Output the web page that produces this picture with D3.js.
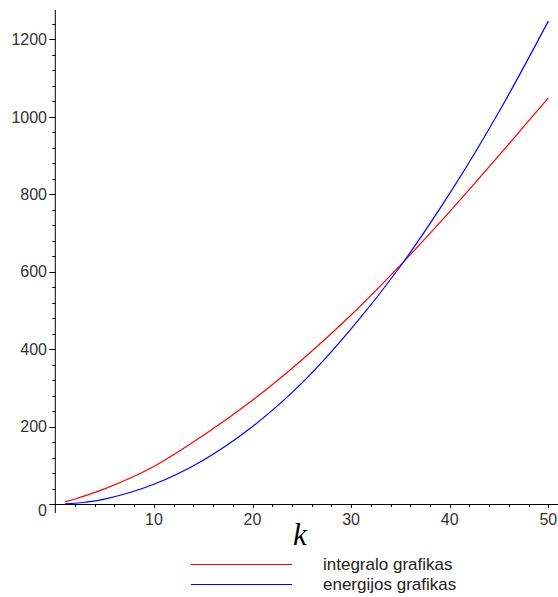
<!DOCTYPE html>
<html>
<head>
<meta charset="utf-8">
<script src="https://cdn.jsdelivr.net/npm/d3@7"></script>
<style>
  body { margin: 0; background: #fff; }
  svg { display: block; }
</style>
</head>
<body>
<div id="chart"></div>
<script>
// values
var kValues = [1, 2, 3, 5, 10, 15, 20, 25, 30, 35, 40, 45, 50]
var integralo = [6, 13, 21, 39, 97, 177, 268, 372, 488, 617, 755, 900, 1049]
var energijos = [0.5, 2, 4.5, 12.5, 51, 113, 200, 312, 452, 614, 802, 1013, 1247]

var xMajor = [10, 20, 30, 40, 50]
var yMajor = [0, 200, 400, 600, 800, 1000, 1200]
var seriesNames = ["integralo grafikas", "energijos grafikas"]
var seriesColors = ["#ff0000", "#0000ff"]

var width = 558, height = 597

var svg = d3.select("#chart").append("svg")
  .attr("width", width)
  .attr("height", height)

svg.append("rect").attr("width", width).attr("height", height).attr("fill", "#fff")

var x = d3.scaleLinear().domain([0, 51]).range([55.3, 558.2])
var y = d3.scaleLinear().domain([0, 1200]).range([504, 39.3])

var axisColor = "#000"
var labelFont = "'Liberation Sans', Arial, sans-serif"

// y axis
var yAxisG = svg.append("g")
yAxisG.append("line")
  .attr("x1", x(0)).attr("x2", x(0))
  .attr("y1", 10).attr("y2", 513)
  .attr("stroke", axisColor)

var yMinor = d3.range(40, 1280, 40).filter(d => d % 200 !== 0)
yAxisG.selectAll(".ymin").data(yMinor).join("line")
  .attr("x1", x(0) - 3).attr("x2", x(0))
  .attr("y1", d => Math.round(y(d)) + 0.5).attr("y2", d => Math.round(y(d)) + 0.5)
  .attr("stroke", axisColor)

yAxisG.selectAll(".ymaj").data(yMajor).join("line")
  .attr("x1", x(0) - 6).attr("x2", x(0))
  .attr("y1", d => Math.round(y(d)) + 0.5).attr("y2", d => Math.round(y(d)) + 0.5)
  .attr("stroke", axisColor)

yAxisG.selectAll("text").data(yMajor).join("text")
  .attr("x", 47)
  .attr("y", d => y(d) + (d === 0 ? 6 : 0))
  .attr("dy", "0.36em")
  .attr("text-anchor", "end")
  .attr("font-family", labelFont)
  .attr("font-size", 16)
  .attr("fill", "#333")
  .text(d => d)

// x axis
var xAxisG = svg.append("g")
xAxisG.append("line")
  .attr("x1", 50).attr("x2", width)
  .attr("y1", y(0) + 0.5).attr("y2", y(0) + 0.5)
  .attr("stroke", axisColor)

var xMinor = d3.range(2, 51, 2).filter(d => d % 10 !== 0)
xAxisG.selectAll(".xmin").data(xMinor).join("line")
  .attr("x1", d => Math.round(x(d)) + 0.5).attr("x2", d => Math.round(x(d)) + 0.5)
  .attr("y1", y(0)).attr("y2", y(0) + 3)
  .attr("stroke", axisColor)

xAxisG.selectAll(".xmaj").data(xMajor).join("line")
  .attr("x1", d => Math.round(x(d)) + 0.5).attr("x2", d => Math.round(x(d)) + 0.5)
  .attr("y1", y(0)).attr("y2", y(0) + 4)
  .attr("stroke", axisColor)

xAxisG.selectAll("text").data(xMajor).join("text")
  .attr("x", d => x(d))
  .attr("y", 525)
  .attr("text-anchor", "middle")
  .attr("font-family", labelFont)
  .attr("font-size", 16)
  .attr("fill", "#333")
  .text(d => d)

// axis label
svg.append("text")
  .attr("x", 300)
  .attr("y", 545)
  .attr("text-anchor", "middle")
  .attr("font-family", "'Liberation Serif', 'Times New Roman', serif")
  .attr("font-style", "italic")
  .attr("font-size", 31)
  .attr("fill", "#000")
  .text("k")

// curves
var line = d3.line()
  .curve(d3.curveCatmullRom)
  .x((d, i) => x(kValues[i]))
  .y(d => y(d))

var series = [integralo, energijos]
svg.append("g").selectAll("path").data(series).join("path")
  .attr("fill", "none")
  .attr("stroke", (d, i) => seriesColors[i])
  .attr("stroke-width", 1.2)
  .attr("d", line)

// legend
var legend = svg.append("g")
var legendY = [564, 584]
legend.selectAll("line").data(seriesNames).join("line")
  .attr("x1", 191).attr("x2", 292)
  .attr("y1", (d, i) => legendY[i] + 0.5).attr("y2", (d, i) => legendY[i] + 0.5)
  .attr("stroke", (d, i) => seriesColors[i])
  .attr("stroke-width", 1.2)

legend.selectAll("text").data(seriesNames).join("text")
  .attr("x", 323)
  .attr("y", (d, i) => legendY[i] + 6)
  .attr("font-family", labelFont)
  .attr("font-size", 17)
  .attr("fill", "#222")
  .text(d => d)
</script>
</body>
</html>
